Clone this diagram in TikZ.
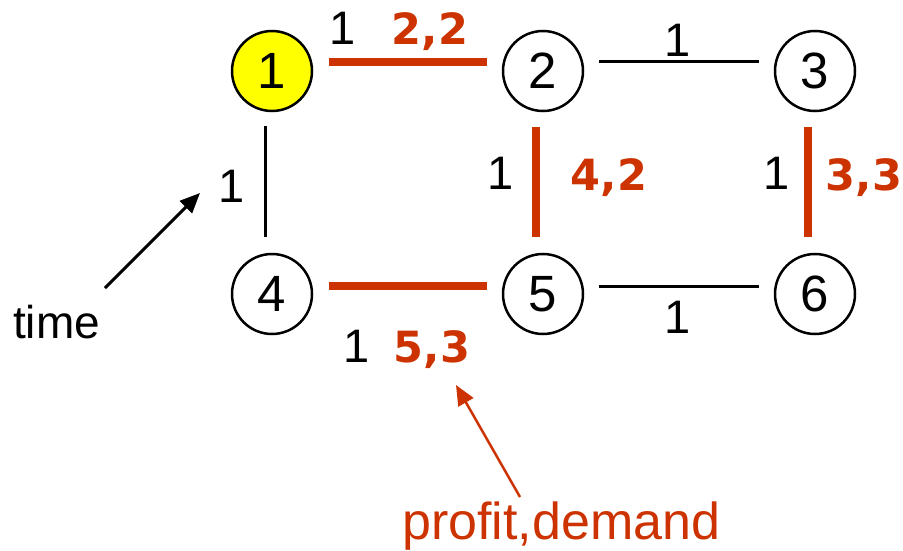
\documentclass[tikz,border=0pt]{standalone}
\usepackage{fontspec}
\setmainfont{Liberation Sans}
\newfontfamily\labelfont{DejaVu Sans}
\usetikzlibrary{arrows.meta}
\definecolor{myred}{RGB}{204,51,0}
\definecolor{myyellow}{RGB}{255,255,0}
\tikzset{
  vertex/.style={circle,draw=black,line width=2.5pt,minimum size=80pt,inner sep=0pt,font=\fontsize{51}{51}\selectfont},
  plain/.style={draw=black,line width=3pt},
  chosen/.style={draw=myred,line width=8pt},
  wlabel/.style={anchor=base,inner sep=0pt,font=\fontsize{47}{47}\selectfont},
  plabel/.style={anchor=base,inner sep=0pt,text=myred,font=\labelfont\fontsize{43}{43}\selectfont\bfseries},
}
\begin{document}
\begin{tikzpicture}[x=1pt,y=-1pt]
\useasboundingbox (0,0) rectangle (903,551);
\node[vertex,fill=myyellow] (n1) at (272,71) {1};
\node[vertex] (n2) at (543,71) {2};
\node[vertex] (n3) at (815,71) {3};
\node[vertex] (n4) at (272,294) {4};
\node[vertex] (n5) at (543,294) {5};
\node[vertex] (n6) at (815,294) {6};
% edges
\draw[chosen] ([xshift=16pt,yshift=9pt]n1.east) -- ([xshift=-15pt,yshift=9pt]n2.west);
\draw[plain] ([xshift=15pt,yshift=9pt]n2.east) -- ([xshift=-15pt,yshift=9pt]n3.west);
\draw[plain] ([xshift=-7pt,yshift=-14pt]n1.south) -- ([xshift=-7pt,yshift=16pt]n4.north);
\draw[chosen] ([xshift=-7pt,yshift=-15pt]n2.south) -- ([xshift=-7pt,yshift=16pt]n5.north);
\draw[chosen] ([xshift=-7pt,yshift=-15pt]n3.south) -- ([xshift=-7pt,yshift=16pt]n6.north);
\draw[chosen] ([xshift=16pt,yshift=8pt]n4.east) -- ([xshift=-15pt,yshift=8pt]n5.west);
\draw[plain] ([xshift=15pt,yshift=8pt]n5.east) -- ([xshift=-15pt,yshift=8pt]n6.west);
% labels
\node[wlabel] (t12) at (343,45) {1};
\node[plabel] (p12) at (430,45) {2,2};
\node[wlabel] (t23) at (678,57) {1};
\node[wlabel] (t14) at (232,202) {1};
\node[wlabel] (t25) at (501,189) {1};
\node[plabel] (p25) at (609,190) {4,2};
\node[wlabel] (t36) at (777,189) {1};
\node[plabel] (p36) at (864,190) {3,3};
\node[wlabel] (t45) at (357,362) {1};
\node[plabel] (p45) at (432,362) {5,3};
\node[wlabel] (t56) at (678,333) {1};
% annotations
\node[anchor=base west,inner sep=0pt,font=\fontsize{46}{46}\selectfont] (time) at (13,338) {time};
\node[anchor=base west,inner sep=0pt,text=myred,font=\fontsize{52}{52}\selectfont] (pd) at (402,539) {profit,demand};
\coordinate (ta) at (105,288);
\coordinate (tb) at (200,193);
\draw[line width=3pt,-{Triangle[length=20pt,width=17pt]}] (ta) -- (tb);
\coordinate (pa) at (520,497);
\coordinate (pb) at (456,385);
\draw[myred,line width=2.5pt,-{Triangle[length=20pt,width=17pt]}] (pa) -- (pb);
\end{tikzpicture}
\end{document}
